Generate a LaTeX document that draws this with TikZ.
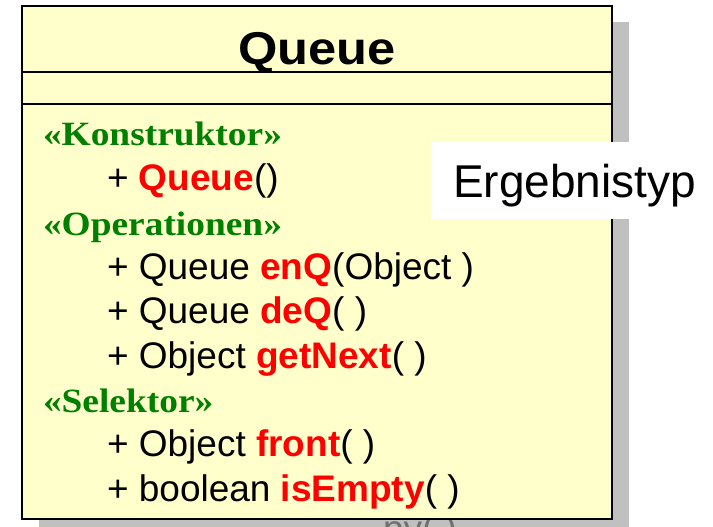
\documentclass[tikz,border=0pt]{standalone}
\usepackage{fontspec}
\setmainfont{Liberation Sans}
\newfontfamily\stereofont{Liberation Serif}[FakeStretch=1.1]
\newfontfamily\titlefont{Liberation Sans}[FakeStretch=1.1]
\definecolor{classfill}{RGB}{255,255,204}
\definecolor{shadowgray}{RGB}{192,192,192}
\definecolor{stereogreen}{RGB}{0,128,0}
\definecolor{opred}{RGB}{255,0,0}
\definecolor{hiddengray}{RGB}{112,112,112}
\tikzset{
  txt/.style={anchor=base west, inner sep=0pt, outer sep=0pt},
  stereo/.style={txt, text=stereogreen, font=\stereofont\bfseries\fontsize{34}{40}\selectfont},
  member/.style={txt, font=\fontsize{37}{44}\selectfont},
}
\newcommand{\opname}[1]{\textcolor{opred}{\textbf{#1}}}
\begin{document}
\begin{tikzpicture}[x=1pt, y=-1pt]
  \useasboundingbox (0,0) rectangle (713,527);
  % drop shadow of the class box
  \fill[shadowgray] (39,22) rectangle (629,540);
  % text lying behind the class box, only its upper edge shows
  \node[member, text=hiddengray] (hidden) at (383,541) {py( )};
  % class box with its compartments
  \draw[line width=2pt, fill=classfill] (22,6) rectangle (612,519);
  \draw[line width=2pt] (22,72) -- (612,72);
  \draw[line width=2pt] (22,104) -- (612,104);
  \node[anchor=base, inner sep=0pt, font=\titlefont\bfseries\fontsize{46}{52}\selectfont] (title) at (317,65) {Queue};
  % members
  \node[stereo] (konst) at (43,146) {«Konstruktor»};
  \node[member] (ctor) at (107,190.5) {+ \opname{Queue}()};
  \node[stereo] (ops) at (43,235) {«Operationen»};
  \node[member] (enq) at (107,279) {+ Queue \opname{enQ}(Object )};
  \node[member] (deq) at (107,323.5) {+ Queue \opname{deQ}( )};
  \node[member] (next) at (107,368) {+ Object \opname{getNext}( )};
  \node[stereo] (sel) at (43,412) {«Selektor»};
  \node[member] (front) at (107,456.5) {+ Object \opname{front}( )};
  \node[member] (empty) at (107,501) {+ boolean \opname{isEmpty}( )};
  % label on a white plate
  \fill[white] (431,142) rectangle (713,219);
  \node[txt, font=\fontsize{46}{52}\selectfont] (result) at (453,197) {Ergebnistyp};
\end{tikzpicture}
\end{document}
